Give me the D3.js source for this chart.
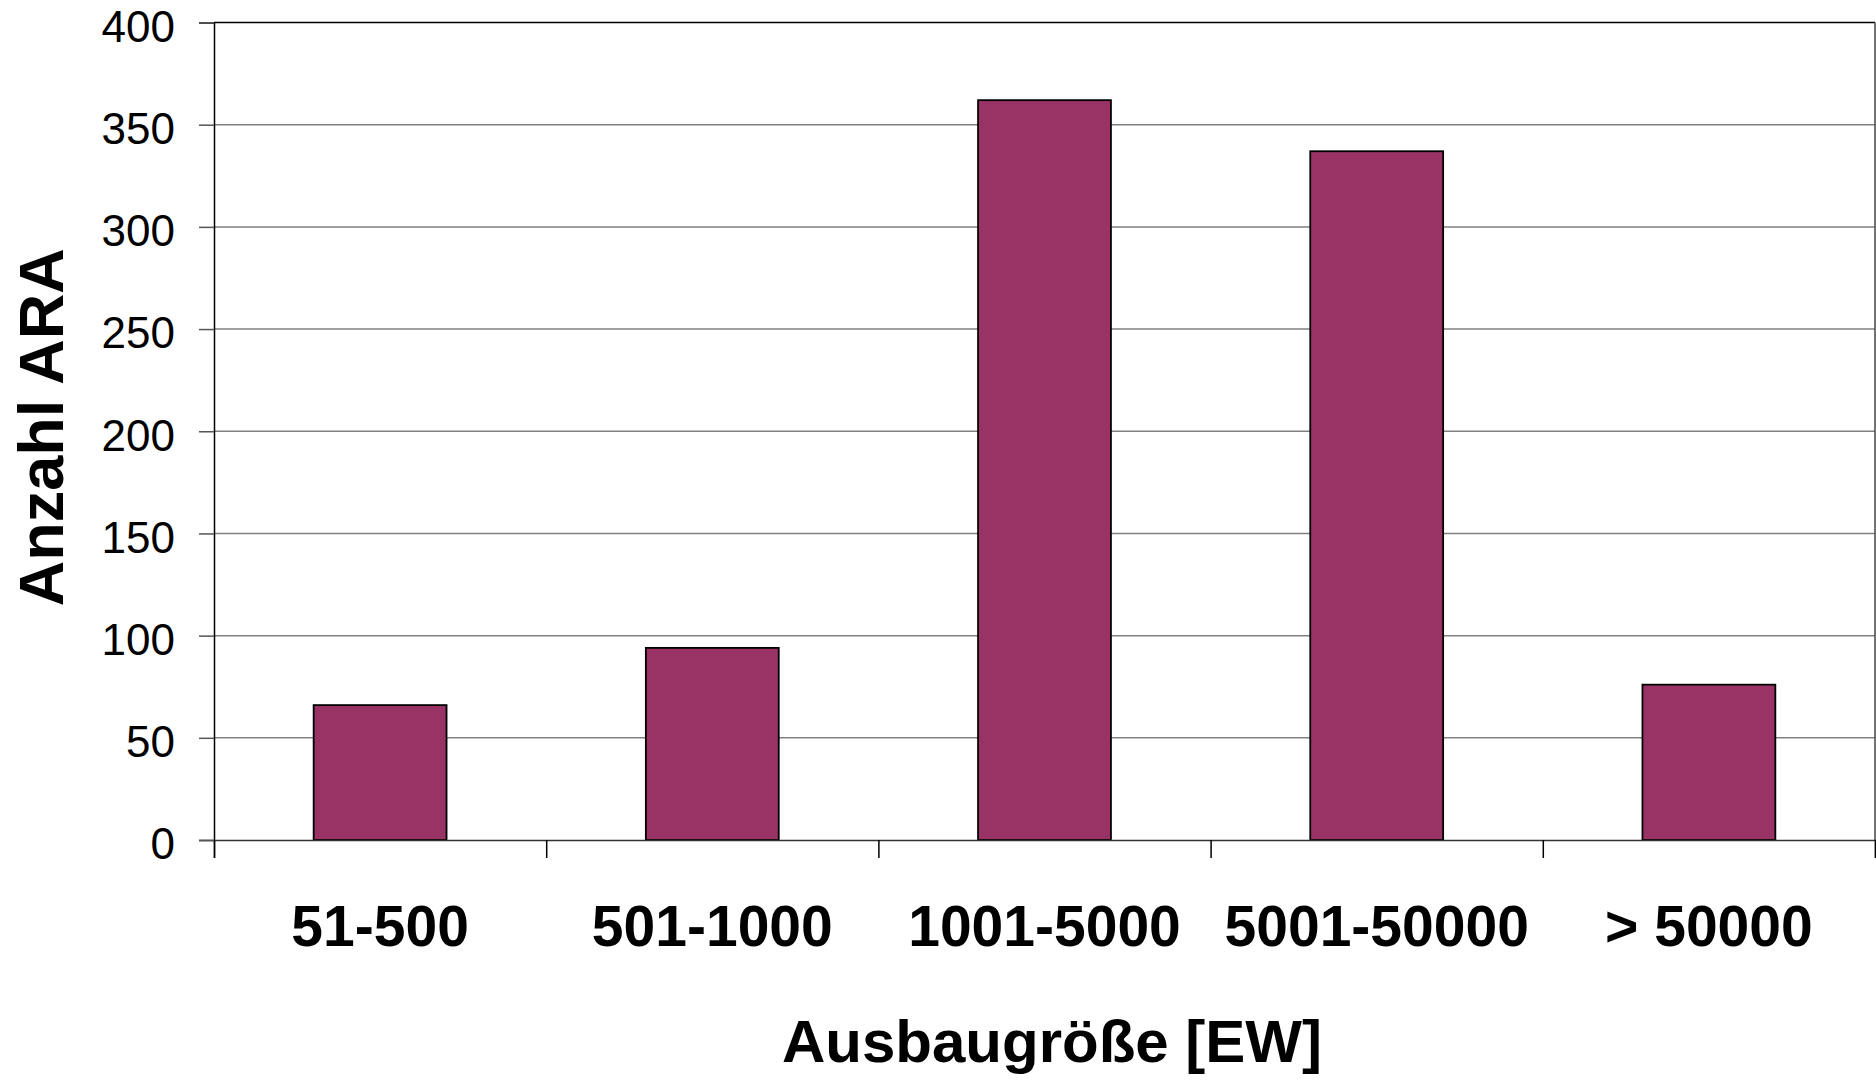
<!DOCTYPE html>
<html>
<head>
<meta charset="utf-8">
<script src="https://cdn.jsdelivr.net/npm/d3@7"></script>
<style>
  html, body { margin: 0; padding: 0; background: #fff; }
  svg { display: block; font-family: "Liberation Sans", Arial, sans-serif; }
</style>
</head>
<body>
<svg id="chart" width="1876" height="1082"></svg>
<script>
const categories = ["51-500", "501-1000", "1001-5000", "5001-50000", "> 50000"];
const values = [66, 94, 362, 337, 76];
const yTicks = [0, 50, 100, 150, 200, 250, 300, 350, 400];
const yTitle = "Anzahl ARA";
const xTitle = "Ausbaugröße [EW]";

const W = 1876, H = 1082;
const margin = { left: 214, right: 1, top: 22.5, bottom: 242 };
const x0 = margin.left, x1 = W - margin.right;
const yTop = margin.top, yBot = H - margin.bottom;

const svg = d3.select("#chart");

const x = d3.scaleBand().domain(categories).range([x0, x1]).paddingInner(0.6).paddingOuter(0.3);
const xEdges = d3.scaleLinear().domain([0, categories.length]).range([x0, x1]);
const y = d3.scaleLinear().domain([0, 400]).range([yBot, yTop]);

// gridlines
svg.append("g")
  .selectAll("line")
  .data(yTicks.filter(t => t > 0 && t < 400))
  .join("line")
  .attr("x1", x0).attr("x2", x1)
  .attr("y1", d => y(d)).attr("y2", d => y(d))
  .attr("stroke", "#808080").attr("stroke-width", 1.5);

// plot border top & right
svg.append("line").attr("x1", x0).attr("x2", x1).attr("y1", y(400)).attr("y2", y(400))
  .attr("stroke", "#000").attr("stroke-width", 1.5);
svg.append("line").attr("x1", x1).attr("x2", x1).attr("y1", y(400)).attr("y2", y(0))
  .attr("stroke", "#444").attr("stroke-width", 1.5);

// bars
svg.append("g")
  .selectAll("rect")
  .data(categories.map((c, i) => ({ c, v: values[i] })))
  .join("rect")
  .attr("x", d => x(d.c))
  .attr("width", x.bandwidth())
  .attr("y", d => y(d.v))
  .attr("height", d => y(0) - y(d.v))
  .attr("fill", "#993366")
  .attr("stroke", "#000")
  .attr("stroke-width", 1.8);

// y axis
const yAxis = d3.axisLeft(y).tickValues(yTicks).tickSize(15).tickPadding(24).tickFormat(d3.format("d"));
const gy = svg.append("g").attr("transform", `translate(${x0},0)`).call(yAxis);
gy.select(".domain").attr("stroke", "#000").attr("stroke-width", 1.5);
gy.selectAll(".tick line").attr("stroke", "#555").attr("stroke-width", 1.5);
gy.selectAll(".tick text")
  .attr("font-size", 44).attr("fill", "#000")
  .attr("font-family", "'Liberation Sans', Arial, sans-serif")
  .attr("dy", "0.43em");

// x axis: ticks at category boundaries
const xAxis = d3.axisBottom(xEdges).tickValues(d3.range(0, categories.length + 1)).tickSize(18).tickFormat("");
const gx = svg.append("g").attr("transform", `translate(0,${yBot})`).call(xAxis);
gx.select(".domain").attr("stroke", "#333").attr("stroke-width", 1.5);
gx.selectAll(".tick line").attr("stroke", "#000").attr("stroke-width", 1.5);

// category labels
svg.append("g")
  .selectAll("text")
  .data(categories)
  .join("text")
  .attr("x", d => x(d) + x.bandwidth() / 2)
  .attr("y", 946)
  .attr("text-anchor", "middle")
  .attr("font-size", 57)
  .attr("font-weight", "bold")
  .attr("fill", "#000")
  .text(d => d);

// axis titles
svg.append("text")
  .attr("x", 1052)
  .attr("y", 1062)
  .attr("text-anchor", "middle")
  .attr("font-size", 60)
  .attr("font-weight", "bold")
  .text(xTitle);

svg.append("text")
  .attr("transform", `translate(63,${(yTop + yBot) / 2 - 4}) rotate(-90)`)
  .attr("text-anchor", "middle")
  .attr("font-size", 63)
  .attr("font-weight", "bold")
  .text(yTitle);
</script>
</body>
</html>
